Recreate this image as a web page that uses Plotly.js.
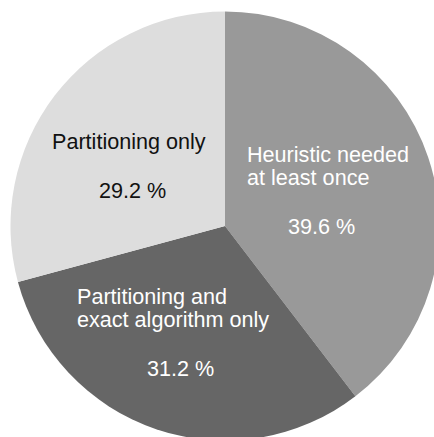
<!DOCTYPE html>
<html>
<head>
<meta charset="utf-8">
<script src="https://cdn.plot.ly/plotly-3.0.1.min.js"></script>
<style>
html, body { margin: 0; padding: 0; overflow: hidden; background: #ffffff; width: 434px; height: 437px; }
#chart { width: 450px; height: 452px; }
</style>
</head>
<body>
<div id="chart"></div>
<script>
// ---- data ----
const labels = ["Heuristic needed at least once", "Partitioning and exact algorithm only", "Partitioning only"];
const labelLines = [["Heuristic needed", "at least once"], ["Partitioning and", "exact algorithm only"], ["Partitioning only"]];
const values = [39.6, 31.2, 29.2];

// ---- styles / layout helpers ----
const colors = ["#999999", "#666666", "#dddddd"];
const textColors = ["#ffffff", "#ffffff", "#111111"];
const W = 450, H = 452;
const cx = 225, cy = 226, r = 214.5;
// label block: left x, centre y of first line (pixels); percent: centre (pixels)
const labelPos = [[246, 154], [76, 296], [51, 141]];
const pctPos = [[321, 226], [180, 368], [132, 190]];
const lineStep = 23.5;
const fontFamily = "Liberation Sans, Arial, sans-serif";
const fontSize = 21.6;

const annotations = [];
labels.forEach((lab, i) => {
  labelLines[i].forEach((line, j) => {
    annotations.push({
      text: line, showarrow: false, xref: "paper", yref: "paper",
      x: labelPos[i][0] / W, y: 1 - (labelPos[i][1] + j * lineStep) / H,
      xanchor: "left", yanchor: "middle", borderpad: 0,
      font: {family: fontFamily, size: fontSize, color: textColors[i]}
    });
  });
  annotations.push({
    text: values[i].toFixed(1) + " %", showarrow: false, xref: "paper", yref: "paper",
    x: pctPos[i][0] / W, y: 1 - pctPos[i][1] / H,
    xanchor: "center", yanchor: "middle", borderpad: 0,
    font: {family: fontFamily, size: fontSize, color: textColors[i]}
  });
});

const trace = {
  type: "pie",
  labels: labels,
  values: values,
  sort: false,
  direction: "clockwise",
  rotation: 0,
  textinfo: "none",
  hoverinfo: "label+percent",
  marker: {colors: colors, line: {width: 0}},
  domain: {x: [(cx - r) / W, (cx + r) / W], y: [1 - (cy + r) / H, 1 - (cy - r) / H]}
};

const layout = {
  width: W, height: H,
  margin: {l: 0, r: 0, t: 0, b: 0, pad: 0},
  showlegend: false,
  paper_bgcolor: "#ffffff",
  plot_bgcolor: "#ffffff",
  annotations: annotations
};

Plotly.newPlot("chart", [trace], layout, {displayModeBar: false, staticPlot: true});
</script>
</body>
</html>
